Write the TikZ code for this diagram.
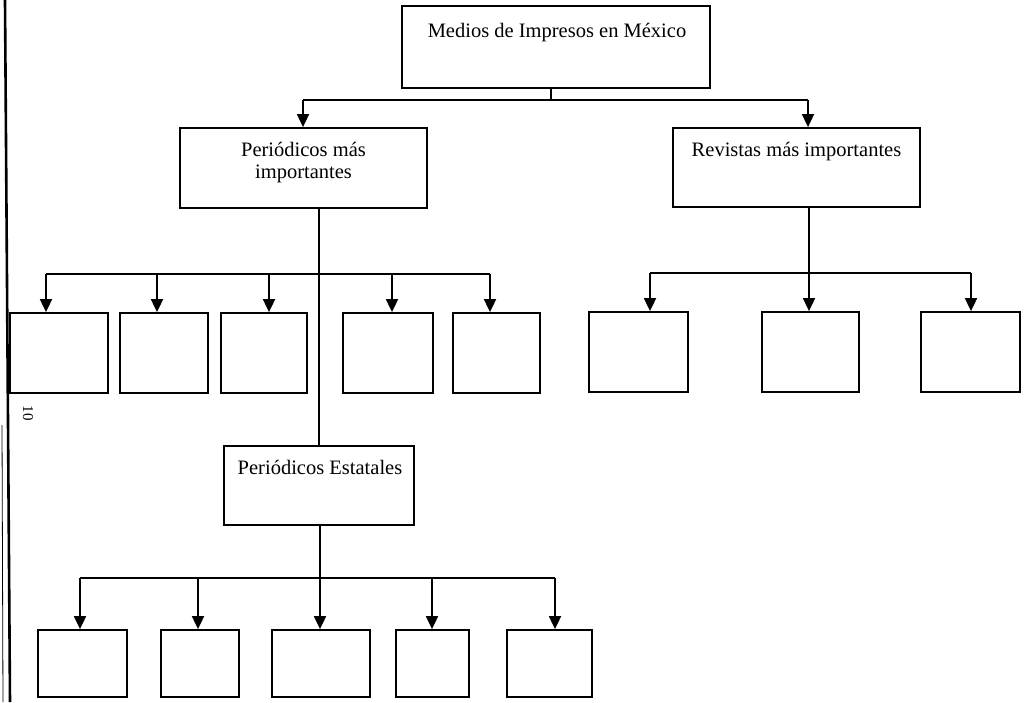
\documentclass[tikz,border=0pt]{standalone}
\usepackage{fontspec}
\setmainfont{Liberation Serif}
\usetikzlibrary{arrows.meta}
\begin{document}
\begin{tikzpicture}[x=1pt,y=-1pt,
  box/.style={draw, line width=1.8pt, inner sep=0pt, rectangle},
  lbl/.style={inner sep=0pt, font=\fontsize{20.5}{22}\selectfont, align=center},
  wire/.style={line width=1.8pt},
  arr/.style={line width=1.8pt, -{Triangle[width=12pt,length=13pt]}}]
\useasboundingbox (0,0) rectangle (1027,702);

% binding edge of the page
\draw[line width=2.6pt] (5,0) -- (10,702);
\draw[line width=0.8pt] (2,425) -- (3,702);
\node[rotate=-90, inner sep=0pt, font=\fontsize{15}{15}\selectfont] (pagenum) at (28,413) {10};

% level 0
\node[box, minimum width=308pt, minimum height=82pt] (top) at (556,47) {};
\node[lbl, anchor=base] (toptxt) at (557,37) {Medios de Impresos en México};

% level 1
\node[box, minimum width=247pt, minimum height=80pt] (P) at (303.5,168) {};
\node[lbl, anchor=north] (Ptxt) at (303.5,142) {Periódicos más\\importantes};
\node[box, minimum width=247pt, minimum height=79pt] (R) at (796.5,167.5) {};
\node[lbl, anchor=base] (Rtxt) at (796.5,156) {Revistas más importantes};

\coordinate (kP) at (303,100);
\coordinate (kR) at (808,100);
\draw[wire] (top.south -| 551,0) -- (551,100);
\draw[wire] (kP) -- (kR);
\draw[arr] (kP) -- (kP |- P.north);
\draw[arr] (kR) -- (kR |- R.north);

% children of the newspapers box
\foreach \n/\c/\w/\a in {a1/59/98/46, a2/164/88/157, a3/264/86/269, a4/388/90/392, a5/496.5/87/490}{
  \node[box, minimum width=\w pt, minimum height=80pt] (\n) at (\c,353) {};
  \coordinate (k\n) at (\a,274);
  \draw[arr] (k\n) -- (k\n |- \n.north);
}
\draw[wire] (ka1) -- (ka5);

% children of the magazines box
\foreach \n/\c/\w/\a in {b1/638.5/99/650, b2/810.5/97/809, b3/970.5/99/971}{
  \node[box, minimum width=\w pt, minimum height=80pt] (\n) at (\c,352) {};
  \coordinate (k\n) at (\a,273);
  \draw[arr] (k\n) -- (k\n |- \n.north);
}
\draw[wire] (kb1) -- (kb3);
\draw[wire] (R.south -| kb2) -- (kb2);

% state newspapers
\node[box, minimum width=190pt, minimum height=79pt] (E) at (319,485.5) {};
\node[lbl, anchor=base] (Etxt) at (320,474) {Periódicos Estatales};
\draw[wire] (P.south -| E.north) -- (E.north);

\foreach \n/\l/\r/\a in {c1/38/127/80, c2/161/239/198, c3/272/370/320, c4/396/469/432, c5/507/592/555}{
  \node[box, minimum width={\r-\l}, minimum height=67pt] (\n) at ({(\l+\r)/2},663.5) {};
  \coordinate (k\n) at (\a,578);
  \draw[arr] (k\n) -- (k\n |- \n.north);
}
\draw[wire] (kc1) -- (kc5);
\draw[wire] (E.south -| kc3) -- (kc3);
\end{tikzpicture}
\end{document}
